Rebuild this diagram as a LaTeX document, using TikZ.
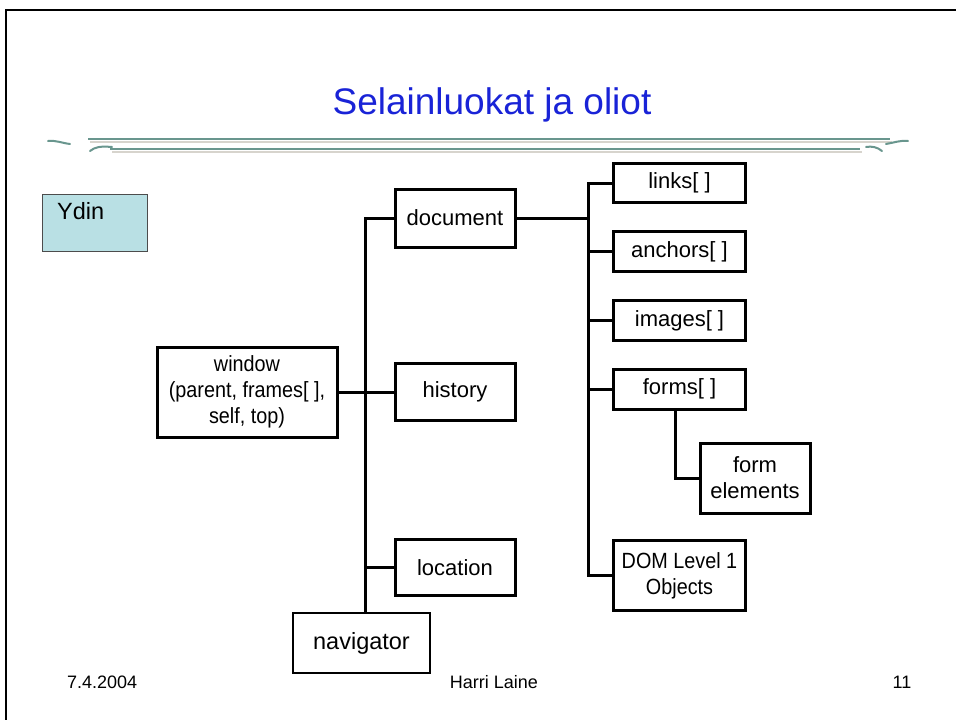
\documentclass[tikz,border=0pt]{standalone}
\usepackage{fontspec}
\setmainfont{Liberation Sans}
\newfontfamily\narrowsans[FakeStretch=0.9]{Liberation Sans}
\definecolor{titleblue}{RGB}{25,35,215}
\definecolor{ydinfill}{RGB}{185,224,228}
\definecolor{deco}{RGB}{105,150,142}
\definecolor{decoshadow}{RGB}{215,212,205}
\tikzset{
  objbox/.style={draw, line width=3pt, align=center, inner sep=0pt,
    font=\fontsize{22}{26}\selectfont},
  narrowtext/.style={font=\narrowsans\fontsize{22}{26}\selectfont},
  conn/.style={line width=3pt},
  foot/.style={anchor=base, inner sep=0pt, font=\fontsize{18}{20}\selectfont},
}
\begin{document}
\begin{tikzpicture}[x=1pt,y=-1pt]
\useasboundingbox (0,0) rectangle (956,720);
% slide frame
\draw[line width=2.5pt] (6,720) -- (6,10) -- (957,10);
% title
\node[anchor=base, inner sep=0pt, text=titleblue, font=\fontsize{37}{40}\selectfont] (title) at (492,114) {Selainluokat ja oliot};
% decorative double line
\draw[decoshadow, line width=2pt] (90,141.5) -- (892,141.5);
\draw[decoshadow, line width=2pt] (112,151.5) -- (862,151.5);
\draw[deco, line width=2.4pt] (88,139) -- (890,139);
\draw[deco, line width=2.4pt] (110,149) -- (860,149);
\draw[deco, line width=2pt, line cap=round] (48,141) .. controls (55,140) and (62,143) .. (70,144);
\draw[deco, line width=2pt, line cap=round] (90,151) .. controls (95,147) and (100,146) .. (112,147);
\draw[deco, line width=2pt, line cap=round] (908,141) .. controls (900,140) and (893,143) .. (886,144);
\draw[deco, line width=2pt, line cap=round] (866,147) .. controls (872,146) and (877,147) .. (882,151);
% Ydin box
\node[draw=black!70, line width=0.8pt, fill=ydinfill, minimum width=105pt, minimum height=57pt, inner sep=0pt] (ydin) at (94.5,222.5) {};
\node[anchor=base west, inner sep=0pt, font=\fontsize{23.5}{26}\selectfont] (ydintext) at (57,219) {Ydin};
% object boxes
\node[objbox, narrowtext, minimum width=180pt, minimum height=90pt] (window) at (247,392) {window\\(parent, frames[ ],\\self, top)};
\node[objbox, minimum width=120pt, minimum height=58pt] (document) at (455,218) {document};
\node[objbox, minimum width=120pt, minimum height=57pt] (history) at (455,392) {history};
\node[objbox, minimum width=120pt, minimum height=56pt] (location) at (455,567.5) {location};
\node[draw, line width=1.8pt, minimum width=137pt, minimum height=60pt, inner sep=0pt, font=\fontsize{23.5}{26}\selectfont] (navigator) at (361.5,643) {navigator};
\node[objbox, minimum width=132pt, minimum height=39pt] (links) at (679.5,183) {links[ ]};
\node[objbox, minimum width=132pt, minimum height=40pt] (anchors) at (679.5,251.5) {anchors[ ]};
\node[objbox, minimum width=132pt, minimum height=40pt] (images) at (679.5,320.5) {images[ ]};
\node[objbox, minimum width=132pt, minimum height=40pt] (forms) at (679.5,389) {forms[ ]};
\node[objbox, minimum width=110pt, minimum height=70pt] (formel) at (755,478) {form\\elements};
\node[objbox, narrowtext, minimum width=132pt, minimum height=70pt] (dom) at (679.5,575.5) {DOM Level 1\\Objects};
% connectors
\coordinate (tk) at (365,0);
\coordinate (rk) at (588,0);
\coordinate (fk) at (675,0);
\draw[conn] (document.west) -| (tk |- navigator.north);
\draw[conn] (window.east) -- (history.west);
\draw[conn] (location.west) -- (tk |- location.west);
\draw[conn] (document.east) -- (rk |- document.east);
\draw[conn] (links.west) -| (rk |- dom.west) -- (dom.west);
\draw[conn] (anchors.west) -- (rk |- anchors.west);
\draw[conn] (images.west) -- (rk |- images.west);
\draw[conn] (forms.west) -- (rk |- forms.west);
\draw[conn] (fk |- forms.south) |- (formel.west);
% footer
\node[foot, anchor=base west] (date) at (67,688) {7.4.2004};
\node[foot] (author) at (494,688) {Harri Laine};
\node[foot] (page) at (902,688) {11};
\end{tikzpicture}
\end{document}
